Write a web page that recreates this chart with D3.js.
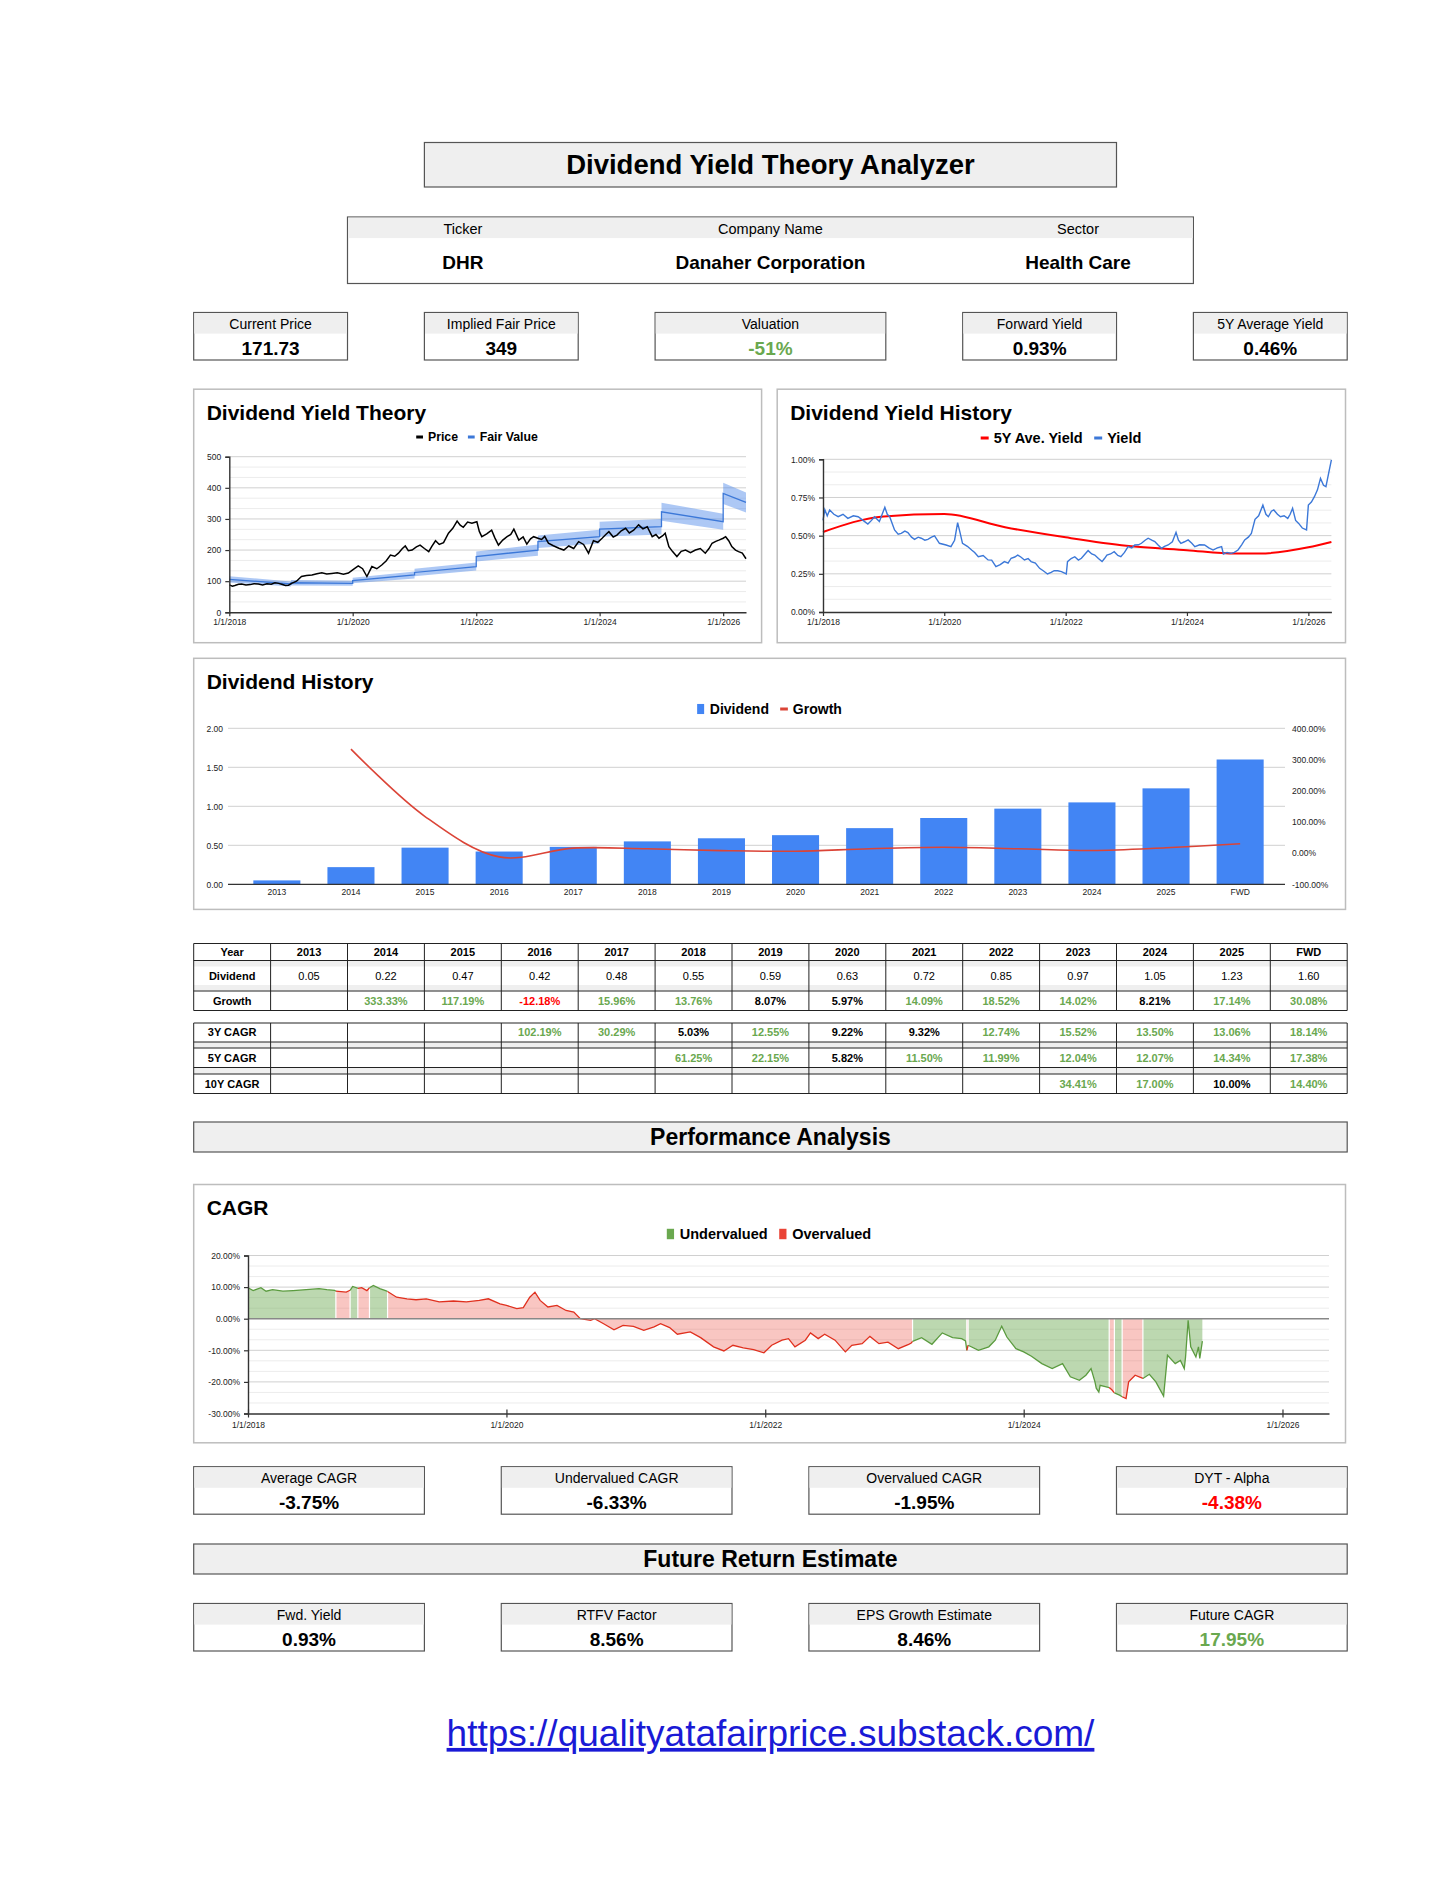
<!DOCTYPE html>
<html>
<head>
<meta charset="utf-8">
<script src="https://cdn.jsdelivr.net/npm/d3@7"></script>
<style>
  body { margin: 0; background: #fff; }
  svg text { font-family: "Liberation Sans", Arial, Helvetica, sans-serif; }
</style>
</head>
<body>
<svg id="page" width="1456" height="1884"></svg>
<script>
// ---- header / kpi values ----
const pageTitle = "Dividend Yield Theory Analyzer";
const infoLabels = ["Ticker", "Company Name", "Sector"];
const infoValues = ["DHR", "Danaher Corporation", "Health Care"];
const topLabels = ["Current Price", "Implied Fair Price", "Valuation", "Forward Yield", "5Y Average Yield"];
const topValues = ["171.73", "349", "-51%", "0.93%", "0.46%"];
const perfLabels = ["Average CAGR", "Undervalued CAGR", "Overvalued CAGR", "DYT - Alpha"];
const perfValues = ["-3.75%", "-6.33%", "-1.95%", "-4.38%"];
const futureLabels = ["Fwd. Yield", "RTFV Factor", "EPS Growth Estimate", "Future CAGR"];
const futureValues = ["0.93%", "8.56%", "8.46%", "17.95%"];
const siteUrl = "https://qualityatafairprice.substack.com/";

// ---- dividend table ----
const years = ["2013","2014","2015","2016","2017","2018","2019","2020","2021","2022","2023","2024","2025","FWD"];
const dividends = [0.05, 0.22, 0.47, 0.42, 0.48, 0.55, 0.59, 0.63, 0.72, 0.85, 0.97, 1.05, 1.23, 1.60];
const growth = [null, 333.33, 117.19, -12.18, 15.96, 13.76, 8.07, 5.97, 14.09, 18.52, 14.02, 8.21, 17.14, 30.08];
const cagr3 = [null, null, null, 102.19, 30.29, 5.03, 12.55, 9.22, 9.32, 12.74, 15.52, 13.50, 13.06, 18.14];
const cagr5 = [null, null, null, null, null, 61.25, 22.15, 5.82, 11.50, 11.99, 12.04, 12.07, 14.34, 17.38];
const cagr10 = [null, null, null, null, null, null, null, null, null, null, 34.41, 17.00, 10.00, 14.40];

// ---- price (decimal year, value) ----
const priceYear = [2018.00,2018.05,2018.09,2018.15,2018.20,2018.27,2018.34,2018.40,2018.47,2018.54,2018.61,2018.68,2018.74,2018.80,2018.85,2018.91,2018.96,2019.01,2019.09,2019.17,2019.25,2019.34,2019.42,2019.50,2019.58,2019.66,2019.75,2019.85,2019.93,
  2020.00,2020.09,2020.16,2020.23,2020.31,2020.39,2020.47,2020.54,2020.61,2020.68,2020.74,2020.80,2020.85,2020.90,2020.96,2021.03,2021.09,2021.16,2021.23,2021.28,2021.34,2021.40,2021.47,2021.55,2021.62,2021.69,2021.74,2021.79,2021.86,2021.93,
  2022.01,2022.05,2022.09,2022.17,2022.25,2022.30,2022.36,2022.43,2022.50,2022.56,2022.61,2022.69,2022.76,2022.82,2022.88,2022.93,2023.00,2023.06,2023.11,2023.17,2023.25,2023.34,2023.42,2023.50,2023.58,2023.66,2023.74,2023.82,2023.90,2023.97,
  2024.04,2024.10,2024.15,2024.22,2024.28,2024.35,2024.42,2024.48,2024.55,2024.63,2024.70,2024.77,2024.85,2024.91,2024.96,2025.02,2025.06,2025.12,2025.18,2025.25,2025.32,2025.39,2025.47,2025.55,2025.63,2025.71,2025.77,2025.82,2025.88,2025.93,
  2026.00,2026.04,2026.09,2026.14,2026.20,2026.25,2026.31,2026.37];
const priceValue = [88,84,86,90,91,88,89,92,91,88,92,90,95,93,90,86,87,93,100,115,118,120,124,127,123,125,127,122,126,
  136,149,140,115,147,140,152,165,184,180,190,204,213,198,200,210,216,205,195,212,230,218,224,254,270,293,280,273,290,286,
  291,260,243,252,264,240,216,232,243,250,267,232,242,219,236,243,238,234,244,222,214,206,200,213,205,227,218,190,230,225,
  238,250,259,242,248,262,270,255,264,281,268,275,243,250,238,246,254,211,195,179,196,200,192,200,205,190,205,222,228,232,
  238,243,230,211,200,195,190,172];

// ---- fair value segments (one per year) ----
const fvStart = [2018.0, 2019.0, 2020.0, 2021.0, 2022.0, 2023.0, 2024.0, 2025.0, 2026.0];
const fvEnd = [2019.0, 2020.0, 2021.0, 2022.0, 2023.0, 2024.0, 2025.0, 2026.0, 2026.37];
const fvStartValue = [106, 95, 102, 128, 179, 227, 267, 323, 382];
const fvEndValue = [91, 93, 120, 147, 200, 243, 275, 291, 353];
const fvLowStart = [96, 86, 93, 116, 163, 207, 243, 294, 348];
const fvLowEnd = [83, 85, 109, 134, 182, 221, 250, 265, 321];
const fvHighStart = [116, 104, 111, 140, 195, 247, 291, 352, 416];
const fvHighEnd = [99, 101, 131, 160, 218, 265, 300, 317, 385];

// ---- yield history (%, decimal year) ----
const yieldYear = [2018.00,2018.03,2018.07,2018.11,2018.18,2018.25,2018.33,2018.41,2018.50,2018.58,2018.66,2018.74,2018.80,2018.85,2018.93,2019.02,2019.06,2019.10,2019.18,2019.24,2019.29,2019.35,2019.40,2019.46,2019.51,2019.57,2019.62,2019.68,2019.73,2019.79,2019.84,2019.92,
  2020.03,2020.11,2020.17,2020.22,2020.26,2020.30,2020.38,2020.45,2020.50,2020.56,2020.64,2020.72,2020.78,2020.85,2020.92,2020.99,2021.05,2021.10,2021.16,2021.21,2021.26,2021.32,2021.38,2021.43,2021.50,2021.57,2021.63,2021.70,2021.76,2021.81,2021.87,2021.93,
  2022.01,2022.03,2022.09,2022.15,2022.21,2022.26,2022.32,2022.37,2022.43,2022.48,2022.54,2022.60,2022.64,2022.68,2022.74,2022.80,2022.86,2022.91,2022.97,2023.03,2023.09,2023.14,2023.20,2023.25,2023.31,2023.36,2023.42,2023.47,2023.52,2023.58,2023.63,2023.69,2023.76,2023.82,2023.86,2023.90,2023.96,
  2024.02,2024.08,2024.13,2024.21,2024.29,2024.36,2024.43,2024.50,2024.57,2024.60,2024.66,2024.73,2024.78,2024.84,2024.90,2024.95,2025.01,2025.06,2025.12,2025.18,2025.25,2025.30,2025.34,2025.39,2025.43,2025.49,2025.54,2025.60,2025.66,2025.70,2025.74,2025.79,2025.84,2025.90,2025.97,
  2026.00,2026.05,2026.10,2026.15,2026.20,2026.25,2026.29,2026.34,2026.38];
const yieldValue = [0.60,0.67,0.63,0.668,0.64,0.624,0.64,0.613,0.63,0.624,0.60,0.576,0.60,0.624,0.592,0.686,0.64,0.624,0.537,0.51,0.515,0.53,0.52,0.49,0.476,0.49,0.483,0.47,0.476,0.49,0.498,0.45,
  0.439,0.428,0.47,0.585,0.52,0.45,0.43,0.406,0.39,0.362,0.37,0.341,0.34,0.297,0.31,0.33,0.32,0.352,0.36,0.373,0.36,0.341,0.35,0.33,0.32,0.286,0.27,0.249,0.26,0.271,0.27,0.264,
  0.249,0.33,0.35,0.362,0.34,0.352,0.38,0.402,0.38,0.373,0.35,0.33,0.35,0.373,0.38,0.395,0.37,0.362,0.39,0.428,0.42,0.439,0.44,0.45,0.47,0.483,0.47,0.461,0.44,0.417,0.43,0.439,0.46,0.522,0.47,0.45,0.46,
  0.472,0.45,0.428,0.44,0.439,0.42,0.406,0.42,0.428,0.38,0.39,0.384,0.39,0.406,0.44,0.472,0.49,0.515,0.607,0.63,0.70,0.64,0.624,0.66,0.668,0.64,0.624,0.63,0.613,0.64,0.679,0.60,0.58,0.55,0.537,
  0.70,0.72,0.755,0.80,0.875,0.83,0.821,0.92,0.996];
const avgYieldYear = [2018.0, 2019.0, 2020.0, 2021.0, 2022.0, 2023.0, 2024.0, 2024.8, 2025.2, 2026.0, 2026.38];
const avgYieldValue = [0.524, 0.626, 0.641, 0.555, 0.489, 0.434, 0.405, 0.383, 0.383, 0.424, 0.459];

// ---- CAGR history (%, decimal year, U = undervalued, O = overvalued) ----
const cagrYear = [2018.00,2018.04,2018.10,2018.14,2018.19,2018.27,2018.35,2018.45,2018.55,2018.61,2018.67,2018.68,2018.76,2018.79,2018.81,2018.84,2018.85,2018.88,2018.92,2018.94,2018.97,2019.02,2019.07,
  2019.08,2019.15,2019.23,2019.30,2019.38,2019.48,2019.59,2019.69,2019.79,2019.86,2019.95,2020.00,2020.08,2020.13,2020.18,2020.22,2020.26,2020.32,2020.39,2020.46,2020.52,2020.57,2020.65,2020.68,2020.75,2020.83,2020.90,2020.98,
  2021.06,2021.14,2021.19,2021.26,2021.32,2021.42,2021.50,2021.60,2021.68,2021.75,2021.83,2021.91,2021.99,2022.05,2022.13,2022.18,2022.23,2022.31,2022.35,2022.41,2022.46,2022.54,2022.62,2022.67,2022.75,2022.81,2022.88,2022.95,2023.03,2023.11,2023.13,
  2023.14,2023.21,2023.29,2023.37,2023.45,2023.52,2023.55,2023.56,2023.57,2023.65,2023.73,2023.78,2023.83,2023.87,2023.94,2024.00,2024.06,2024.14,2024.22,2024.30,2024.36,2024.43,2024.48,2024.52,2024.55,
  2024.56,2024.58,2024.59,2024.66,2024.68,2024.70,2024.74,2024.76,2024.79,2024.81,2024.86,2024.92,2024.97,2025.02,2025.08,2025.11,2025.17,2025.21,2025.24,2025.25,2025.27,2025.29,2025.33,2025.35,2025.36,2025.38];
const cagrValue = [9.8,8.9,9.8,8.7,9.2,8.7,8.9,9.2,9.5,9.2,9.0,8.7,8.4,9.0,10.2,9.8,9.6,9.8,8.9,9.8,10.5,9.5,8.8,
  8.6,6.8,6.3,6.0,6.3,5.3,5.6,5.3,5.8,6.3,4.7,4.2,3.2,3.5,6.8,8.4,5.8,3.7,4.2,2.6,2.1,0.0,-0.5,0.0,-1.6,-3.5,-2.1,-2.4,
  -3.7,-2.6,-1.6,-2.8,-4.9,-4.2,-6.0,-8.9,-10.2,-8.4,-9.2,-9.8,-10.8,-8.4,-6.8,-6.3,-8.9,-6.8,-4.5,-6.3,-4.9,-6.8,-10.5,-8.4,-7.9,-5.6,-7.9,-7.4,-9.5,-8.1,-7.7,
  -7.2,-6.0,-8.1,-4.5,-6.0,-6.3,-7.0,-10.0,-8.4,-10.0,-8.9,-6.8,-2.4,-5.8,-9.5,-10.5,-11.9,-14.2,-15.8,-14.2,-18.4,-19.5,-17.9,-15.8,-20.0,
  -22.0,-23.2,-21.1,-21.8,-22.5,-23.5,-24.2,-24.7,-25.3,-20.0,-17.9,-18.9,-17.6,-20.0,-24.5,-11.6,-14.2,-13.2,-15.8,-12.1,-0.5,-8.9,-12.1,-8.9,-12.6,-7.1];
const cagrState = ("UUUUUUUUUUU" + "OO" + "UUU" + "OOO" + "UUUU" +
  "OOOOOOOOOOOOOOOOOOOOOOOOOOOO" + "OOOOOOOOOOOOOOOOOOOOOOOOOOOOOOO" +
  "UUUUUUU" + "O" + "UUUUUUUUUUUUUUUUUUUU" + "OO" + "UU" + "OOOO" + "UUUUUUUUUUUUUUUUUUU").split("");

// ---------------------------------------------------------------
const svg = d3.select("#page");
const GREEN = "#6aa84f", RED = "#ff0000";
const col0 = 193.7, colW = 76.9;
const colX = i => col0 + i * colW;

function yr(v) {
  const y = Math.floor(v);
  const s = Date.UTC(y, 0, 1), e = Date.UTC(y + 1, 0, 1);
  return new Date(s + (v - y) * (e - s));
}

function rect(x, y, w, h, fill, stroke, sw) {
  return svg.append("rect").attr("x", x).attr("y", y).attr("width", w).attr("height", h)
    .attr("fill", fill || "#fff").attr("stroke", stroke || "none").attr("stroke-width", sw || 1);
}

function text(x, y, s, size, weight, color, anchor) {
  return svg.append("text").attr("x", x).attr("y", y).attr("dy", "0.35em")
    .attr("text-anchor", anchor || "middle").attr("font-size", size)
    .attr("font-weight", weight || "normal").attr("fill", color || "#000").text(s);
}

function kpi(x0, x1, y, label, value, color) {
  rect(x0, y, x1 - x0, 47.5, "#fff", "#555", 1.2);
  rect(x0 + 0.6, y + 0.6, x1 - x0 - 1.2, 20.5, "#efefef");
  text((x0 + x1) / 2, y + 11.5, label, 14);
  text((x0 + x1) / 2, y + 36, value, 19, "bold", color);
}

function banner(x0, x1, y0, y1, label, size) {
  rect(x0, y0, x1 - x0, y1 - y0, "#efefef", "#555", 1.2);
  text((x0 + x1) / 2, (y0 + y1) / 2, label, size, "bold");
}

function legend(cx, cy, items, size) {
  const g = svg.append("g");
  let x = 0;
  items.forEach(it => {
    if (it.type === "line") {
      g.append("rect").attr("x", x).attr("y", cy - 1.5).attr("width", size * 0.55).attr("height", 3).attr("fill", it.color);
    } else {
      g.append("rect").attr("x", x).attr("y", cy - size * 0.36).attr("width", size * 0.5).attr("height", size * 0.72).attr("fill", it.color);
    }
    x += size * 0.55 + 5;
    const t = g.append("text").attr("x", x).attr("y", cy).attr("dy", "0.35em")
      .attr("font-size", size).attr("font-weight", "bold").text(it.label);
    x += t.node().getComputedTextLength() + size * 0.8;
  });
  g.attr("transform", `translate(${cx - (x - size * 0.8) / 2},0)`);
}

function panel(x0, y0, x1, y1, title) {
  rect(x0, y0, x1 - x0, y1 - y0, "#fff", "#bdbdbd", 1.5);
  text(x0 + 13, y0 + 23, title, 21, "bold", "#000", "start");
}

function styleAxis(g, size) {
  g.select(".domain").attr("stroke", "#333").attr("stroke-width", 1.4);
  g.selectAll(".tick line").attr("stroke", "#333").attr("stroke-width", 1.2);
  g.selectAll(".tick text").attr("font-size", size).attr("fill", "#222")
    .attr("font-family", '"Liberation Sans", Arial, sans-serif');
}

function grid(yScale, values, x0, x1, color, w) {
  svg.append("g").selectAll("line").data(values).join("line")
    .attr("x1", x0).attr("x2", x1).attr("y1", d => yScale(d)).attr("y2", d => yScale(d))
    .attr("stroke", color).attr("stroke-width", w || 1);
}

function minorValues(step, lo, hi) {
  const out = [];
  for (let v = lo; v < hi - 1e-9; v += step) out.push(v + step / 3, v + 2 * step / 3);
  return out;
}

const pct2 = d => d.toFixed(2) + "%";
const dateFmt = d3.utcFormat("%-m/%-d/%Y");
const tickDates = [2018, 2020, 2022, 2024, 2026].map(yr);

// ---- header ----
banner(colX(3), colX(12), 142.5, 187, pageTitle, 27.5);

rect(colX(2), 217, colX(13) - colX(2), 66.5, "#fff", "#555", 1.2);
rect(colX(2) + 0.6, 217.6, colX(13) - colX(2) - 1.2, 20.5, "#efefef");
[[2, 5], [5, 10], [10, 13]].forEach((c, i) => {
  const cx = (colX(c[0]) + colX(c[1])) / 2;
  text(cx, 228.5, infoLabels[i], 14.5);
  text(cx, 262, infoValues[i], 19, "bold");
});

const topCols = [[0, 2], [3, 5], [6, 9], [10, 12], [13, 15]];
const topColors = ["#000", "#000", GREEN, "#000", "#000"];
topLabels.forEach((l, i) => kpi(colX(topCols[i][0]), colX(topCols[i][1]), 312.5, l, topValues[i], topColors[i]));

// ---- chart 1: dividend yield theory ----
{
  panel(193.7, 389.2, 761.6, 642.7, "Dividend Yield Theory");
  legend(477, 437, [{ label: "Price", color: "#000", type: "line" }, { label: "Fair Value", color: "#3c78d8", type: "line" }], 12.3);
  const x = d3.scaleUtc().domain([yr(2018), yr(2026.37)]).range([229.3, 746]);
  const y = d3.scaleLinear().domain([0, 500]).range([612.3, 456.7]);
  grid(y, minorValues(100, 0, 500), 229.3, 746, "#ececec");
  grid(y, [100, 200, 300, 400, 500], 229.3, 746, "#d0d0d0");

  fvStart.forEach((s, i) => {
    const pts = [{ t: s, lo: fvLowStart[i], hi: fvHighStart[i] }, { t: fvEnd[i], lo: fvLowEnd[i], hi: fvHighEnd[i] }];
    svg.append("path").datum(pts)
      .attr("d", d3.area().x(d => x(yr(d.t))).y0(d => y(d.lo)).y1(d => y(d.hi)))
      .attr("fill", "#4a86e8").attr("fill-opacity", 0.45);
  });
  const fvPts = [];
  fvStart.forEach((s, i) => { fvPts.push([s, fvStartValue[i]], [fvEnd[i], fvEndValue[i]]); });
  svg.append("path").datum(fvPts)
    .attr("d", d3.line().x(d => x(yr(d[0]))).y(d => y(d[1])))
    .attr("fill", "none").attr("stroke", "#3c78d8").attr("stroke-width", 1.3);

  svg.append("path").datum(priceYear.map((t, i) => [t, priceValue[i]]))
    .attr("d", d3.line().x(d => x(yr(d[0]))).y(d => y(d[1])))
    .attr("fill", "none").attr("stroke", "#000").attr("stroke-width", 1.5);

  const ay = svg.append("g").attr("transform", "translate(229.3,0)")
    .call(d3.axisLeft(y).tickValues([0, 100, 200, 300, 400, 500]).tickSize(4).tickPadding(4));
  styleAxis(ay, 8.5);
  const ax = svg.append("g").attr("transform", "translate(0,612.3)")
    .call(d3.axisBottom(x).tickValues(tickDates).tickFormat(dateFmt).tickSize(4).tickPadding(3).tickSizeOuter(0));
  styleAxis(ax, 8.5);
}

// ---- chart 2: dividend yield history ----
{
  panel(777.2, 389.2, 1345.5, 642.7, "Dividend Yield History");
  legend(1061, 438, [{ label: "5Y Ave. Yield", color: "#ff0000", type: "line" }, { label: "Yield", color: "#3c78d8", type: "line" }], 14.5);
  const x = d3.scaleUtc().domain([yr(2018), yr(2026.38)]).range([823, 1331.4]);
  const y = d3.scaleLinear().domain([0, 1]).range([612, 459.3]);
  grid(y, minorValues(0.25, 0, 1), 823, 1331.4, "#ececec");
  grid(y, [0.25, 0.5, 0.75, 1], 823, 1331.4, "#d0d0d0");
  svg.append("path").datum(avgYieldYear.map((t, i) => [t, avgYieldValue[i]]))
    .attr("d", d3.line().curve(d3.curveMonotoneX).x(d => x(yr(d[0]))).y(d => y(d[1])))
    .attr("fill", "none").attr("stroke", "#ff0000").attr("stroke-width", 2);
  svg.append("path").datum(yieldYear.map((t, i) => [t, yieldValue[i]]))
    .attr("d", d3.line().x(d => x(yr(d[0]))).y(d => y(d[1])))
    .attr("fill", "none").attr("stroke", "#3c78d8").attr("stroke-width", 1.4);
  const ay = svg.append("g").attr("transform", "translate(823,0)")
    .call(d3.axisLeft(y).tickValues([0, 0.25, 0.5, 0.75, 1]).tickFormat(pct2).tickSize(4).tickPadding(4));
  styleAxis(ay, 8.5);
  const ax = svg.append("g").attr("transform", "translate(0,612)")
    .call(d3.axisBottom(x).tickValues(tickDates).tickFormat(dateFmt).tickSize(4).tickPadding(3).tickSizeOuter(0));
  styleAxis(ax, 8.5);
}

// ---- chart 3: dividend history ----
{
  panel(193.7, 658.3, 1345.5, 909.4, "Dividend History");
  legend(769.5, 709, [{ label: "Dividend", color: "#4285f4", type: "square" }, { label: "Growth", color: "#db4437", type: "line" }], 14);
  const x = d3.scaleBand().domain(years).range([240, 1277]).paddingInner(0.365).paddingOuter(0.18);
  const yL = d3.scaleLinear().domain([0, 2]).range([884.3, 728.3]);
  const yR = d3.scaleLinear().domain([-100, 400]).range([884.3, 728.3]);
  grid(yL, [0.5, 1, 1.5, 2], 228, 1285, "#d0d0d0");
  svg.append("g").selectAll("rect").data(years).join("rect")
    .attr("x", d => x(d)).attr("width", x.bandwidth())
    .attr("y", (d, i) => yL(dividends[i])).attr("height", (d, i) => yL(0) - yL(dividends[i]))
    .attr("fill", "#4285f4");
  grid(yL, [0], 228, 1285, "#333", 1.2);
  const gPts = years.map((d, i) => [x(d) + x.bandwidth() / 2, growth[i]]).filter(p => p[1] !== null);
  svg.append("path").datum(gPts)
    .attr("d", d3.line().curve(d3.curveCatmullRom.alpha(0.5)).x(d => d[0]).y(d => yR(d[1])))
    .attr("fill", "none").attr("stroke", "#db4437").attr("stroke-width", 1.6);
  const al = svg.append("g").attr("transform", "translate(228,0)")
    .call(d3.axisLeft(yL).tickValues([0, 0.5, 1, 1.5, 2]).tickFormat(d => d.toFixed(2)).tickSize(0).tickPadding(5));
  styleAxis(al, 8.5); al.select(".domain").remove();
  const ar = svg.append("g").attr("transform", "translate(1287,0)")
    .call(d3.axisRight(yR).tickValues([-100, 0, 100, 200, 300, 400]).tickFormat(pct2).tickSize(0).tickPadding(5));
  styleAxis(ar, 8.5); ar.select(".domain").remove();
  const ax = svg.append("g").attr("transform", "translate(0,884.3)")
    .call(d3.axisBottom(x).tickSize(0).tickPadding(5));
  styleAxis(ax, 8.5); ax.select(".domain").remove();
}

// ---- dividend tables ----
function fmtPct(v) { return v === null ? "" : v.toFixed(2) + "%"; }
function pctColor(v) { return v === null ? "#000" : v > 10 ? GREEN : v < 0 ? RED : "#000"; }

function tableLines(yTop, yBottom, hLines, spacers) {
  spacers.forEach(s => rect(col0, s[0], colX(15) - col0, s[1] - s[0], "#efefef"));
  grid(d => d, hLines, col0, colX(15), "#222", 1);
  svg.append("g").selectAll("line").data(d3.range(16)).join("line")
    .attr("x1", d => colX(d)).attr("x2", d => colX(d)).attr("y1", yTop).attr("y2", yBottom)
    .attr("stroke", "#222").attr("stroke-width", 1);
}
function tableRow(y, label, cells, weight, colors) {
  text(colX(0.5), y, label, 11, "bold");
  cells.forEach((c, i) => text(colX(i + 1.5), y, c, 11, weight, colors ? colors[i] : "#000"));
}

tableLines(943.5, 1010.5, [943.5, 960.5, 991, 1010.5], [[961, 966.5], [985, 990.5]]);
tableRow(952, "Year", years, "bold");
tableRow(976, "Dividend", dividends.map(d => d.toFixed(2)), "normal");
tableRow(1001, "Growth", growth.map(fmtPct), "bold", growth.map(pctColor));

tableLines(1023, 1093.5, [1023, 1042, 1048, 1067.5, 1074, 1093.5], [[1042, 1048], [1067.5, 1074]]);
tableRow(1032.5, "3Y CAGR", cagr3.map(fmtPct), "bold", cagr3.map(pctColor));
tableRow(1058, "5Y CAGR", cagr5.map(fmtPct), "bold", cagr5.map(pctColor));
tableRow(1084, "10Y CAGR", cagr10.map(fmtPct), "bold", cagr10.map(pctColor));

// ---- performance analysis ----
banner(col0, 1347.2, 1122, 1152, "Performance Analysis", 23);

{
  panel(193.7, 1184.5, 1345.5, 1442.8, "CAGR");
  legend(769, 1234, [{ label: "Undervalued", color: GREEN, type: "square" }, { label: "Overvalued", color: "#ea4335", type: "square" }], 14.5);
  const x = d3.scaleUtc().domain([yr(2018), yr(2026.36)]).range([248, 1329]);
  const y = d3.scaleLinear().domain([-30, 20]).range([1413.5, 1255.5]);
  grid(y, minorValues(10, -30, 20), 248, 1329, "#ececec");
  grid(y, [-20, -10, 10, 20], 248, 1329, "#d0d0d0");

  const pts = cagrYear.map((t, i) => ({ t: yr(t), v: cagrValue[i], s: cagrState[i] }));
  const runs = [];
  pts.forEach(p => {
    if (!runs.length || runs[runs.length - 1].s !== p.s) runs.push({ s: p.s, pts: [] });
    runs[runs.length - 1].pts.push(p);
  });
  const area = d3.area().x(d => x(d.t)).y0(y(0)).y1(d => y(d.v));
  const line = d3.line().x(d => x(d.t)).y(d => y(d.v));
  runs.forEach((r, k) => {
    const p = k < runs.length - 1 ? r.pts.concat([runs[k + 1].pts[0]]) : r.pts;
    const c = r.s === "U" ? GREEN : "#ea4335";
    svg.append("path").datum(p).attr("d", area).attr("fill", c).attr("fill-opacity", r.s === "U" ? 0.45 : 0.3);
  });
  runs.forEach((r, k) => {
    if (k === 0) return;
    const p0 = r.pts[0];
    svg.append("line").attr("x1", x(p0.t)).attr("x2", x(p0.t)).attr("y1", y(0)).attr("y2", y(p0.v))
      .attr("stroke", "#fff").attr("stroke-width", 1.2);
  });
  runs.forEach((r, k) => {
    const p = k < runs.length - 1 ? r.pts.concat([runs[k + 1].pts[0]]) : r.pts;
    svg.append("path").datum(p).attr("d", line).attr("fill", "none")
      .attr("stroke", r.s === "U" ? "#5b9b3f" : "#e0301e").attr("stroke-width", 1.3);
  });
  grid(y, [0], 248, 1329, "#888", 1.6);

  const ay = svg.append("g").attr("transform", "translate(248,0)")
    .call(d3.axisLeft(y).tickValues([-30, -20, -10, 0, 10, 20]).tickFormat(pct2).tickSize(4).tickPadding(4));
  styleAxis(ay, 8.5);
  const ax = svg.append("g").attr("transform", "translate(0,1413.5)")
    .call(d3.axisBottom(x).tickValues(tickDates).tickFormat(dateFmt).tickSize(4).tickPadding(4).tickSizeOuter(0));
  styleAxis(ax, 8.5);
  ax.selectAll(".tick line").attr("y1", -4);
}

// ---- bottom kpis ----
const perfCols = [[0, 3], [4, 7], [8, 11], [12, 15]];
const perfColors = ["#000", "#000", "#000", RED];
perfLabels.forEach((l, i) => kpi(colX(perfCols[i][0]), colX(perfCols[i][1]), 1466.7, l, perfValues[i], perfColors[i]));

banner(col0, 1347.2, 1544, 1574, "Future Return Estimate", 23);

const futColors = ["#000", "#000", "#000", GREEN];
futureLabels.forEach((l, i) => kpi(colX(perfCols[i][0]), colX(perfCols[i][1]), 1603.5, l, futureValues[i], futColors[i]));

text(770.5, 1733, siteUrl, 37, "normal", "#1a1ad6").attr("text-decoration", "underline");
</script>
</body>
</html>
